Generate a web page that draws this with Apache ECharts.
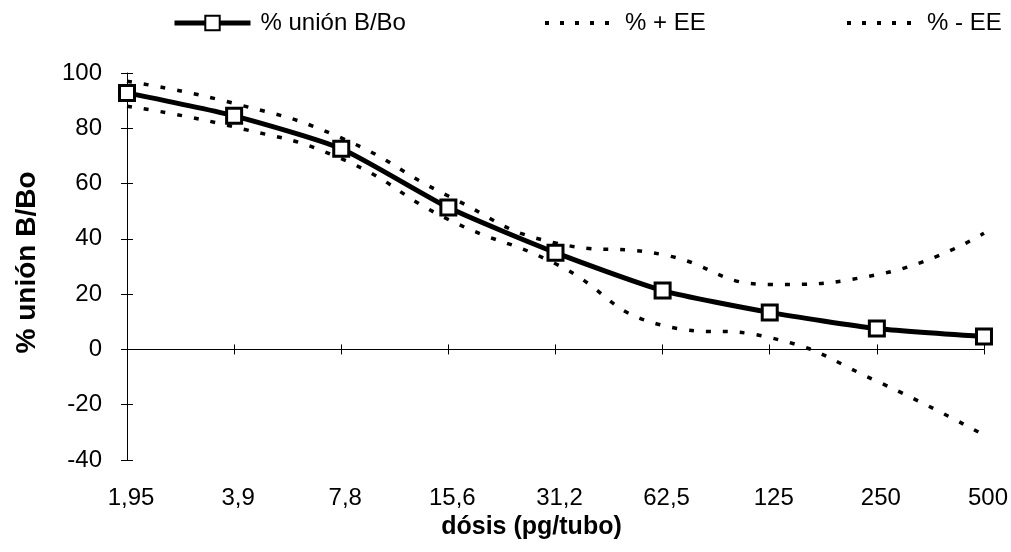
<!DOCTYPE html>
<html>
<head>
<meta charset="utf-8">
<script src="https://cdn.jsdelivr.net/npm/echarts@6/dist/echarts.min.js"></script>
<style>
  html, body { margin: 0; padding: 0; background: #fff; }
  #chart { width: 1011px; height: 552px; }
</style>
</head>
<body>
<div id="chart"></div>
<script>
// doses (pg/tubo)
const doses = ['1,95', '3,9', '7,8', '15,6', '31,2', '62,5', '125', '250', '500']
const union = [92.8, 84.5, 72.6, 51.3, 35, 21.3, 13.4, 7.6, 4.7]
const plusEE = [97, 89, 76.5, 55.5, 38.5, 34.3, 23.5, 27, 42]
const minusEE = [88, 80.5, 69, 47, 31, 8.7, 4.3, -11.5, -31]

const font = 'Liberation Sans, Arial, sans-serif'
const chart = echarts.init(document.getElementById('chart'))

const dotted = {
  type: 'line',
  smooth: true,
  symbol: 'none',
  lineStyle: { color: '#000', width: 3.5, type: [5, 12] },
  itemStyle: { color: '#000' },
  z: 2
}

const legendText = { fontFamily: font, fontSize: 24, color: '#000', padding: [0, 0, 0, 5] }

chart.setOption({
  animation: false,
  backgroundColor: '#fff',
  legend: [
    {
      left: 167, top: 6, itemWidth: 76, itemHeight: 18, selectedMode: false,
      textStyle: legendText,
      lineStyle: { width: 5 },
      data: ['% unión B/Bo']
    },
    {
      left: 538, top: 6, itemWidth: 70, itemHeight: 18, selectedMode: false,
      textStyle: legendText,
      lineStyle: { width: 4, type: [4, 11] },
      data: [{ name: '% + EE', itemStyle: { opacity: 0 } }]
    },
    {
      left: 840, top: 6, itemWidth: 70, itemHeight: 18, selectedMode: false,
      textStyle: legendText,
      lineStyle: { width: 4, type: [4, 11] },
      data: [{ name: '% - EE', itemStyle: { opacity: 0 } }]
    }
  ],
  grid: { left: 127, right: 26, top: 73, bottom: 92, containLabel: false },
  xAxis: [
    {
      type: 'category', data: doses, boundaryGap: false,
      axisLine: { onZero: true, lineStyle: { color: '#000', width: 1 } },
      axisTick: { show: true, length: 5, alignWithLabel: true, lineStyle: { color: '#000' } },
      axisLabel: { show: false }
    },
    {
      type: 'category', data: doses, boundaryGap: false, position: 'bottom',
      axisLine: { onZero: true, show: false },
      axisTick: { show: true, inside: true, length: 5, lineStyle: { color: '#000' } },
      axisLabel: { show: false }
    },
    {
      type: 'category', data: doses, boundaryGap: false, position: 'bottom',
      axisLine: { onZero: false, show: false },
      axisTick: { show: false },
      axisLabel: { fontFamily: font, fontSize: 24, color: '#000', margin: 26, padding: [0, 0, 0, 8] },
      name: 'dósis (pg/tubo)', nameLocation: 'middle', nameGap: 48,
      nameTextStyle: { fontFamily: font, fontWeight: 'bold', fontSize: 25, color: '#000', padding: [0, 48, 0, 0] }
    }
  ],
  yAxis: [
    {
      type: 'value', min: -40, max: 100, interval: 20,
      axisLine: { show: true, lineStyle: { color: '#000', width: 1 } },
      axisTick: { show: true, length: 6, lineStyle: { color: '#000' } },
      splitLine: { show: false },
      axisLabel: { fontFamily: font, fontSize: 24, color: '#000', margin: 25 },
      name: '% unión B/Bo', nameLocation: 'middle', nameGap: 86,
      nameTextStyle: { fontFamily: font, fontWeight: 'bold', fontSize: 28, color: '#000', padding: [0, 0, 0, 8] }
    },
    {
      type: 'value', min: -40, max: 100, interval: 20, position: 'left',
      axisLine: { show: false },
      axisTick: { show: true, inside: true, length: 6, lineStyle: { color: '#000' } },
      splitLine: { show: false },
      axisLabel: { show: false }
    }
  ],
  series: [
    Object.assign({}, dotted, { name: '% + EE', data: plusEE }),
    Object.assign({}, dotted, { name: '% - EE', data: minusEE }),
    {
      name: '% unión B/Bo',
      type: 'line',
      data: union,
      smooth: 0.2,
      symbol: 'rect',
      symbolSize: 15,
      showAllSymbol: true,
      lineStyle: { color: '#000', width: 5 },
      itemStyle: { color: '#fff', borderColor: '#000', borderWidth: 3 },
      z: 3
    }
  ]
})
</script>
</body>
</html>
